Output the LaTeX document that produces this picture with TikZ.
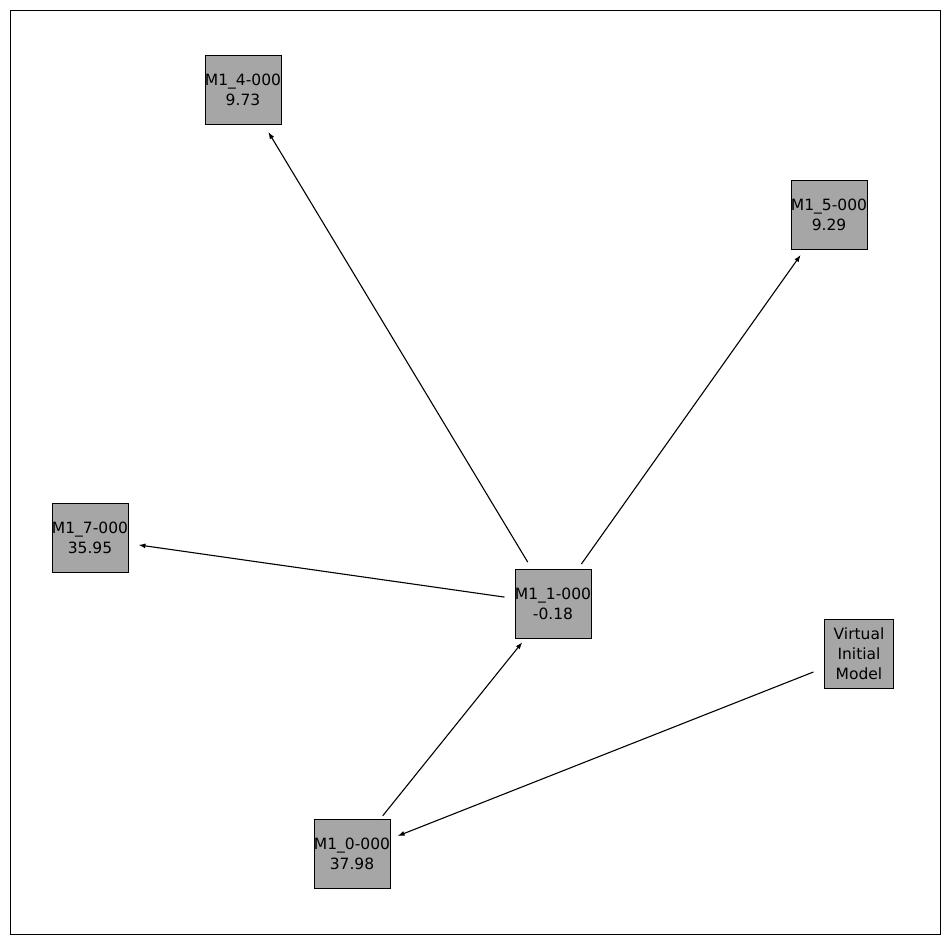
\documentclass[tikz,border=0pt]{standalone}
\usepackage{fontspec}
\setmainfont{DejaVu Sans}
\usetikzlibrary{arrows.meta}
\begin{document}
\begin{tikzpicture}[x=1pt,y=-1pt,
  box/.style={draw,fill={rgb,255:red,166;green,166;blue,166},minimum width=69pt,minimum height=69pt,inner sep=0pt,align=center,font=\fontsize{15.5}{20}\selectfont},
  edge/.style={-{Latex[length=7pt,width=5pt]},line width=1.1pt,shorten >=49pt,shorten <=49pt}]
\useasboundingbox (0,0) rectangle (950,944);
\draw[line width=0.8pt] (10,10) rectangle (940,934);
\node[box] (n4) at (243,90) {M1\_4-000\\9.73};
\node[box] (n5) at (829,215) {M1\_5-000\\9.29};
\node[box] (n7) at (90,538) {M1\_7-000\\35.95};
\node[box] (n1) at (553,604) {M1\_1-000\\-0.18};
\node[box] (nv) at (859,654) {Virtual\\Initial\\Model};
\node[box] (n0) at (352,854) {M1\_0-000\\37.98};
\draw[edge] (n1.center) -- (n4.center);
\draw[edge] (n1.center) -- (n5.center);
\draw[edge] (n1.center) -- (n7.center);
\draw[edge] (n0.center) -- (n1.center);
\draw[edge] (nv.center) -- (n0.center);
\end{tikzpicture}
\end{document}
